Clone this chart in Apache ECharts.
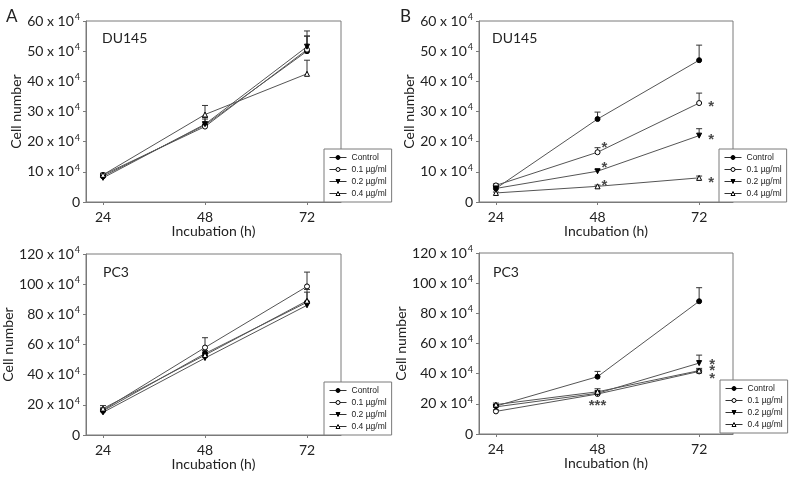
<!DOCTYPE html>
<html>
<head>
<meta charset="utf-8">
<script src="https://cdn.jsdelivr.net/npm/echarts@6/dist/echarts.min.js"></script>
<style>html,body{margin:0;padding:0;background:#fff}#c{width:797px;height:479px}</style>
</head>
<body>
<div id="c"></div>
<script>
// ---- data ----
const hours = [24, 48, 72];
const xTicks = [24, 48, 72];
const groups = ['Control', '0.1 µg/ml', '0.2 µg/ml', '0.4 µg/ml'];

// Panel A: DU145 (units of 10^4 cells)
const duA_control = [8.5, 25.5, 50];
const duA_01 = [9, 25, 50.5];
const duA_02 = [8, 25.8, 51.5];
const duA_04 = [9, 29, 42.5];
const duA_control_sd = [0.5, 2, 5];
const duA_01_sd = [0.5, 1.5, 4.5];
const duA_02_sd = [0.5, 2.2, 5.2];
const duA_04_sd = [0.5, 3, 4.5];

// Panel B: DU145
const duB_control = [4.5, 27.5, 47];
const duB_01 = [5.5, 16.5, 32.8];
const duB_02 = [4.5, 10.2, 22];
const duB_04 = [3, 5.2, 8];
const duB_control_sd = [1, 2.3, 5];
const duB_01_sd = [0.5, 1.5, 3.3];
const duB_02_sd = [0.5, 0.6, 2.3];
const duB_04_sd = [0.3, 0.4, 0.6];

// Panel C: PC3
const pcC_control = [16, 54, 88];
const pcC_01 = [16.5, 58, 98.5];
const pcC_02 = [15, 51, 86];
const pcC_04 = [17.5, 53, 89];
const pcC_control_sd = [1.5, 2, 8.5];
const pcC_01_sd = [1.5, 6.5, 9.5];
const pcC_02_sd = [1, 1.5, 1.5];
const pcC_04_sd = [2, 2, 5.7];

// Panel D: PC3
const pcD_control = [18.5, 38, 88];
const pcD_01 = [15, 26.5, 41.5];
const pcD_02 = [18, 27, 47];
const pcD_04 = [19.5, 28, 42];
const pcD_control_sd = [1, 3.5, 9];
const pcD_01_sd = [1, 1, 1];
const pcD_02_sd = [1, 1.5, 5.3];
const pcD_04_sd = [1, 2, 1.5];

// significance marks (anchor [hour, value])
const starsB48 = [[48, 19.2], [48, 12.6], [48, 6.7]];
const starsB72 = [[72, 33], [72, 22], [72, 7.8]];
const starsD48 = [[48, 21]];
const starsD72 = [[72, 48.8], [72, 44.2], [72, 39.3]];

// ---- layout ----
const panels = [
  {grid: {left: 86, top: 21, width: 255, height: 181}, ymax: 60, yint: 10, legend: {left: 324, top: 149},
   means: [duA_control, duA_01, duA_02, duA_04], sds: [duA_control_sd, duA_01_sd, duA_02_sd, duA_04_sd]},
  {grid: {left: 479, top: 21, width: 254, height: 181}, ymax: 60, yint: 10, legend: {left: 719, top: 149},
   means: [duB_control, duB_01, duB_02, duB_04], sds: [duB_control_sd, duB_01_sd, duB_02_sd, duB_04_sd]},
  {grid: {left: 86, top: 254, width: 255, height: 181}, ymax: 120, yint: 20, legend: {left: 324, top: 382},
   means: [pcC_control, pcC_01, pcC_02, pcC_04], sds: [pcC_control_sd, pcC_01_sd, pcC_02_sd, pcC_04_sd]},
  {grid: {left: 479, top: 253, width: 254, height: 181}, ymax: 120, yint: 20, legend: {left: 720, top: 380},
   means: [pcD_control, pcD_01, pcD_02, pcD_04], sds: [pcD_control_sd, pcD_01_sd, pcD_02_sd, pcD_04_sd]}
];

const symbols = [
  {symbol: 'circle', rotate: 0, fill: '#000'},
  {symbol: 'circle', rotate: 0, fill: '#fff'},
  {symbol: 'triangle', rotate: 180, fill: '#000'},
  {symbol: 'triangle', rotate: 0, fill: '#fff'}
];

const FONT = 'Lato';
const TXT = '#222';
const FRAME = '#7a7a7a';
const FS = 14;

const grids = [], xAxes = [], yAxes = [], legends = [], series = [];

panels.forEach((p, i) => {
  grids.push(Object.assign({show: true, borderColor: FRAME, borderWidth: 1, backgroundColor: 'transparent'}, p.grid));
  xAxes.push({
    type: 'value', gridIndex: i, min: 20, max: 80,
    axisLine: {show: true, lineStyle: {color: FRAME}},
    axisTick: {show: true, customValues: xTicks, length: 3, lineStyle: {color: FRAME}},
    axisLabel: {customValues: xTicks, fontFamily: FONT, fontSize: FS, color: TXT, margin: 8},
    splitLine: {show: false},
    name: 'Incubation (h)', nameLocation: 'middle', nameGap: 22,
    nameTextStyle: {fontFamily: FONT, fontSize: FS, color: TXT}
  });
  yAxes.push({
    type: 'value', gridIndex: i, min: 0, max: p.ymax, interval: p.yint,
    axisLine: {show: true, lineStyle: {color: FRAME}},
    axisTick: {show: true, length: 3, lineStyle: {color: FRAME}},
    axisLabel: {
      fontFamily: FONT, fontSize: FS, color: TXT, margin: 6,
      formatter: v => v === 0 ? '{n|0}' : '{n|' + v + ' x 10}{s|4}',
      rich: {
        n: {fontFamily: FONT, fontSize: FS, color: TXT},
        s: {fontFamily: FONT, fontSize: 9, color: TXT, padding: [0, 0, 8, 1]}
      }
    },
    splitLine: {show: false},
    name: 'Cell number', nameLocation: 'middle', nameGap: 57,
    nameTextStyle: {fontFamily: FONT, fontSize: FS, color: TXT}
  });
  legends.push({
    data: groups, orient: 'vertical', left: p.legend.left, top: p.legend.top,
    backgroundColor: '#fff', borderColor: FRAME, borderWidth: 1, borderRadius: 0,
    padding: [4, 5, 4, 5], itemGap: 3, itemWidth: 17, itemHeight: 5,
    selectedMode: false,
    lineStyle: {width: 1, color: '#333'},
    itemStyle: {borderWidth: 1, borderColor: '#000'},
    textStyle: {fontFamily: 'Liberation Sans', fontSize: 8.5, color: TXT}
  });
  groups.forEach((g, k) => {
    const s = symbols[k];
    series.push({
      type: 'line', name: g, xAxisIndex: i, yAxisIndex: i,
      data: hours.map((h, j) => [h, p.means[k][j]]),
      symbol: s.symbol, symbolRotate: s.rotate, symbolSize: 5,
      itemStyle: {color: s.fill, borderColor: '#000', borderWidth: 1},
      lineStyle: {color: '#555', width: 1},
      z: 3
    });
    series.push({
      type: 'custom', name: 'err' + i + '_' + k, xAxisIndex: i, yAxisIndex: i,
      data: hours.map((h, j) => [h, p.means[k][j], p.means[k][j] + p.sds[k][j]]),
      renderItem: (params, api) => {
        const a = api.coord([api.value(0), api.value(1)]);
        const b = api.coord([api.value(0), api.value(2)]);
        return {
          type: 'group', children: [
            {type: 'line', shape: {x1: a[0], y1: a[1], x2: b[0], y2: b[1]}, style: {stroke: '#333', lineWidth: 1}},
            {type: 'line', shape: {x1: b[0] - 3, y1: b[1], x2: b[0] + 3, y2: b[1]}, style: {stroke: '#333', lineWidth: 1}}
          ]
        };
      },
      z: 2
    });
  });
});

function starSeries(idx, data, text, offset) {
  return {
    type: 'scatter', xAxisIndex: idx, yAxisIndex: idx, data: data,
    symbolSize: 1, itemStyle: {color: 'rgba(0,0,0,0)'}, silent: true,
    label: {show: true, position: 'inside', formatter: text, offset: offset,
      fontFamily: 'Liberation Sans', fontWeight: 'bold', fontSize: 15, color: '#1a1a1a'},
    z: 5
  };
}
series.push(starSeries(1, starsB48, '*', [7, 4]));
series.push(starSeries(1, starsB72, '*', [12, 4]));
series.push(starSeries(3, starsD48, '***', [0, 4]));
series.push(starSeries(3, starsD72, '*', [13, 4]));

const panelText = (t, x, y, size) => ({type: 'text', left: x, top: y, style: {text: t, fontFamily: FONT, fontSize: size, fill: TXT}});

const option = {
  animation: false,
  backgroundColor: '#fff',
  grid: grids, xAxis: xAxes, yAxis: yAxes, legend: legends, series: series,
  graphic: [
    panelText('A', 6, 8, 17),
    panelText('B', 400, 8, 17),
    panelText('DU145', 102, 31, 14),
    panelText('DU145', 492, 31, 14),
    panelText('PC3', 103, 265, 14),
    panelText('PC3', 493, 265, 14)
  ]
};
const chart = echarts.init(document.getElementById('c'), null, {renderer: 'canvas'});
chart.setOption(option);
</script>
</body>
</html>
